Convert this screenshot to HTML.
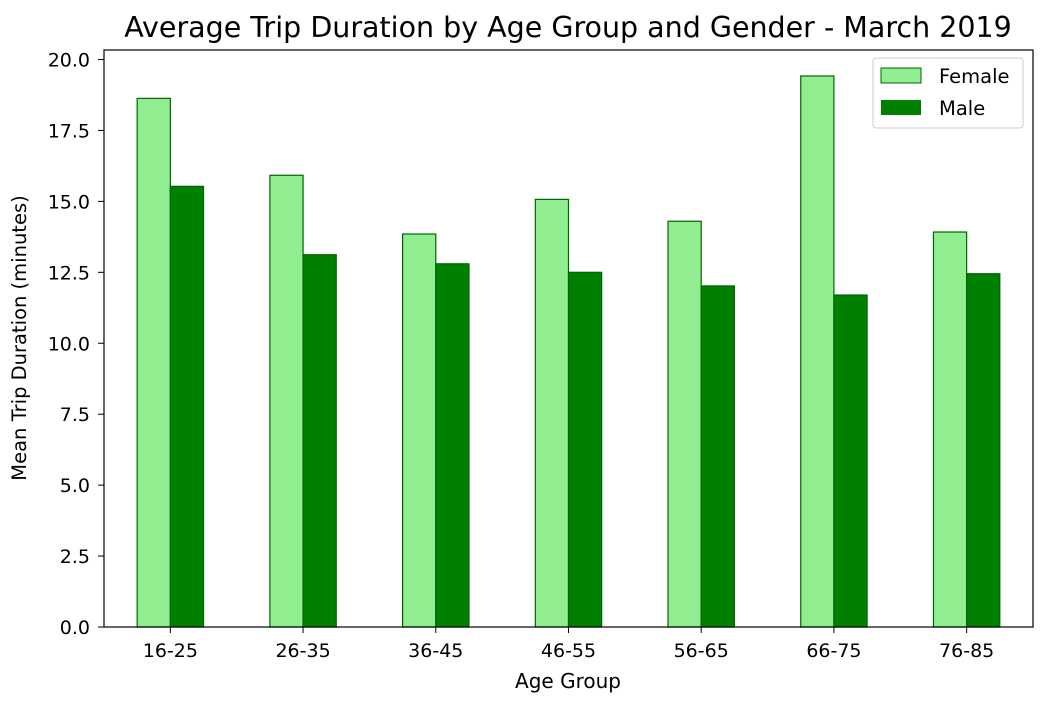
<!DOCTYPE html>
<html><head><meta charset="utf-8"><style>
body{margin:0;background:#fff;font-family:"Liberation Sans","DejaVu Sans",sans-serif}
</style></head><body>
<svg id="chart" width="1045" height="703" xmlns="http://www.w3.org/2000/svg" font-family="DejaVu Sans, Liberation Sans, sans-serif">
<text x="568" y="37" text-anchor="middle" font-size="28.5" fill="#000">Average Trip Duration by Age Group and Gender - March 2019</text>
<text x="568" y="688" text-anchor="middle" font-size="20" fill="#000">Age Group</text>
<text transform="translate(26,338) rotate(-90)" text-anchor="middle" font-size="19.5" fill="#000">Mean Trip Duration (minutes)</text>
<g id="bars"></g>
<g id="axes"></g>
<g>
<rect x="873" y="58" width="150" height="70" fill="#fff" stroke="#ccc" rx="3"/>
<rect x="881" y="68" width="40" height="15" fill="#90ee90" stroke="#006400"/>
<text x="939" y="83" font-size="19.5">Female</text>
<rect x="881" y="100" width="40" height="15" fill="#008000"/>
<text x="939" y="115" font-size="19.5">Male</text>
</g>
</svg>
<script>
const categories=["16-25","26-35","36-45","46-55","56-65","66-75","76-85"];
const femaleValues=[18.63,15.92,13.85,15.07,14.3,19.42,13.92];
const maleValues=[15.53,13.12,12.8,12.5,12.02,11.7,12.45];
const yTicks=[0,2.5,5,7.5,10,12.5,15,17.5,20];
const yTickLabels=["0.0","2.5","5.0","7.5","10.0","12.5","15.0","17.5","20.0"];
const NS="http://www.w3.org/2000/svg";
const L=104,R=1033,T=50,B=627;
const xs=i=>L+(i+0.5)/7*(R-L);
const ys=v=>B-v*(B-59.5)/20;
const bw=0.25*(R-L)/7;
function mk(t,a,p){const e=document.createElementNS(NS,t);for(const k in a)e.setAttribute(k,a[k]);p.appendChild(e);return e;}
const bars=document.getElementById('bars'),axes=document.getElementById('axes');
categories.forEach((c,i)=>{
 const f=mk('rect',{x:xs(i)-bw,y:ys(femaleValues[i]),width:bw,height:B-ys(femaleValues[i]),fill:'#90ee90',stroke:'#006400','stroke-width':1.2},bars);
 
 
 const m=mk('rect',{x:xs(i),y:ys(maleValues[i]),width:bw,height:B-ys(maleValues[i]),fill:'#008000',stroke:'#006400','stroke-width':1.2},bars);
 
 
 mk('line',{x1:xs(i),x2:xs(i),y1:B,y2:B+6,stroke:'#000'},axes);
 const t=mk('text',{x:xs(i),y:B+30,'text-anchor':'middle','font-size':19},axes);
 t.textContent=c;
 
 
});
yTicks.forEach((v,i)=>{
 mk('line',{x1:L-6,x2:L,y1:ys(v),y2:ys(v),stroke:'#000'},axes);
 const t=mk('text',{x:L-14,y:ys(v)+7,'text-anchor':'end','font-size':19},axes);
 t.textContent=yTickLabels[i];
 
 
});
const fr=mk('rect',{x:L,y:T,width:R-L,height:B-T,fill:'none',stroke:'#000','stroke-width':1.2},axes);


</script>
</body></html>
